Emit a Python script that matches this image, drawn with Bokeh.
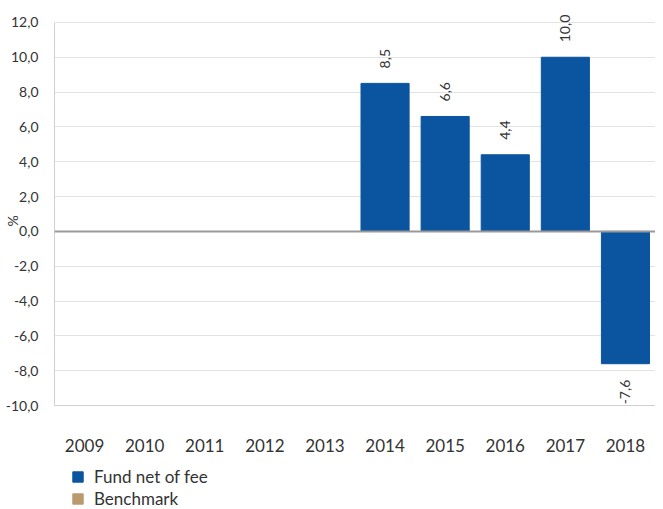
import math
from bokeh.plotting import figure
from bokeh.layouts import column
from bokeh.models import (ColumnDataSource, CustomJSTickFormatter, Legend, LegendItem,
                          FixedTicker, Span)
from bokeh.core.properties import value
from bokeh.embed import file_html
from bokeh.resources import INLINE

years = ["2009", "2010", "2011", "2012", "2013", "2014", "2015", "2016", "2017", "2018"]
fund = [float("nan")] * 5 + [8.5, 6.6, 4.4, 10.0, -7.6]
benchmark = [float("nan")] * 10
y_ticks = [-10, -8, -6, -4, -2, 0, 2, 4, 6, 8, 10, 12]
series_names = ["Fund net of fee", "Benchmark"]

FUND_COLOR = "#0B549F"
BENCH_COLOR = "#B89A6E"
TEXT_COLOR = "#333333"
FONT = "Lato"

# small headroom above 12 so the rotated "10,0" label is not clipped
p = figure(x_range=years, y_range=(-10, 13.26), width=655, height=455,
           output_backend="svg", toolbar_location=None,
           min_border_left=44, min_border_right=0, min_border_top=0,
           min_border_bottom=50)
p.outline_line_color = None

src = ColumnDataSource(dict(x=years, fund=fund, bench=benchmark))
p.vbar(x="x", top="fund", bottom=0, width=0.8, source=src,
       fill_color=FUND_COLOR, line_color=FUND_COLOR)

zero = Span(location=0, dimension="width", line_color="#999999", line_width=2)
p.add_layout(zero)

# data labels
pos_x = [y for y, v in zip(years, fund) if not math.isnan(v) and v >= 0]
pos_v = [v for v in fund if not math.isnan(v) and v >= 0]
neg_x = [y for y, v in zip(years, fund) if not math.isnan(v) and v < 0]
neg_v = [v for v in fund if not math.isnan(v) and v < 0]
fmt = lambda v: f"{v:.1f}".replace(".", ",")
p.text(x=pos_x, y=pos_v, text=[fmt(v) for v in pos_v], angle=math.pi / 2,
       text_align="left", text_baseline="middle", y_offset=-15,
       text_font=value(FONT), text_font_size="14px", text_color=TEXT_COLOR)
p.text(x=neg_x, y=neg_v, text=[fmt(v) for v in neg_v], angle=math.pi / 2,
       text_align="right", text_baseline="middle", y_offset=16,
       text_font=value(FONT), text_font_size="14px", text_color=TEXT_COLOR)

# axes
p.yaxis.ticker = FixedTicker(ticks=y_ticks)
p.yaxis.bounds = (y_ticks[0], y_ticks[-1])
p.yaxis.formatter = CustomJSTickFormatter(code="return tick.toFixed(1).replace('.', ',');")
p.yaxis.major_tick_line_color = None
p.yaxis.minor_tick_line_color = None
p.yaxis.axis_line_color = "#D0D0D0"
p.yaxis.major_label_standoff = 10
p.yaxis.major_label_text_font = FONT
p.yaxis.major_label_text_font_size = "14px"
p.yaxis.major_label_text_color = TEXT_COLOR
# trailing no-break spaces shift the centred "%" down to sit beside 0,0 / 2,0
p.yaxis.axis_label = "%" + "\u00a0" * 10
p.yaxis.axis_label_standoff = -18
p.yaxis.axis_label_text_font = FONT
p.yaxis.axis_label_text_font_size = "14px"
p.yaxis.axis_label_text_font_style = "normal"
p.yaxis.axis_label_text_color = TEXT_COLOR

p.xaxis.major_tick_line_color = None
p.xaxis.axis_line_color = "#D0D0D0"
p.xaxis.major_label_standoff = 27
p.xaxis.major_label_text_font = FONT
p.xaxis.major_label_text_font_size = "17px"
p.xaxis.major_label_text_color = TEXT_COLOR

p.xgrid.grid_line_color = None
p.ygrid.grid_line_color = "#E3E3E3"
p.ygrid.ticker = FixedTicker(ticks=y_ticks)

# legend strip below the chart
lg = figure(x_range=(0, 1), y_range=(0, 1), width=655, height=54,
            output_backend="svg", toolbar_location=None,
            x_axis_location=None, y_axis_location=None,
            min_border=0)
lg.outline_line_color = None
lg.xgrid.grid_line_color = None
lg.ygrid.grid_line_color = None
r_fund = lg.vbar(x=[0.5], top=[float("nan")], width=0.8,
                 fill_color=FUND_COLOR, line_color=FUND_COLOR)
r_bench = lg.vbar(x=[0.5], top=[float("nan")], width=0.8,
                  fill_color=BENCH_COLOR, line_color=BENCH_COLOR)

legend = Legend(items=[LegendItem(label=series_names[0], renderers=[r_fund]),
                       LegendItem(label=series_names[1], renderers=[r_bench])],
                orientation="vertical", location=(17, 0),
                margin=0, padding=0, spacing=1,
                glyph_width=13, glyph_height=13, label_height=13,
                label_text_font=FONT, label_text_font_size="17px",
                label_text_color=TEXT_COLOR, border_line_color=None,
                background_fill_alpha=0, label_standoff=10)
lg.add_layout(legend, "center")

layout = column(p, lg, spacing=0)
open("out.html", "w").write(file_html(layout, INLINE))
